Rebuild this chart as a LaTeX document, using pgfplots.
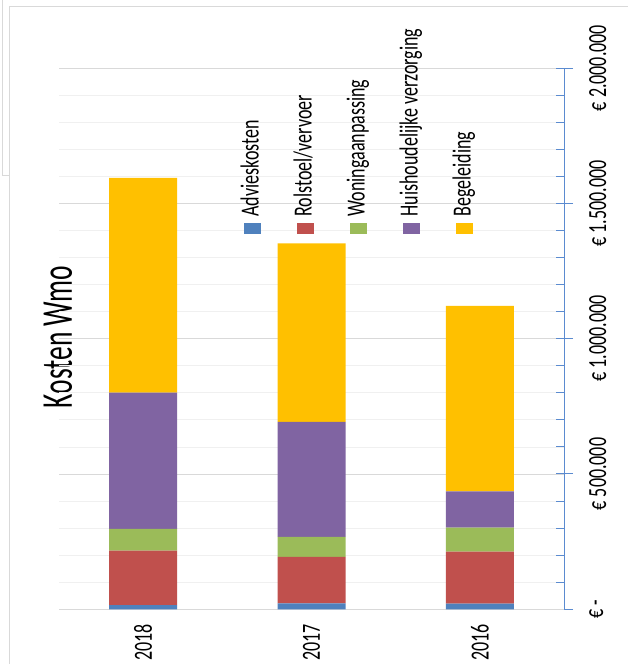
\documentclass[border=0pt]{standalone}
\usepackage{fontspec}
\setmainfont{Carlito}
\usepackage{graphicx}
\usepackage{pgfplots}
\pgfplotsset{compat=1.18}
\definecolor{cA}{HTML}{4F81BD}
\definecolor{cB}{HTML}{C0504D}
\definecolor{cC}{HTML}{9BBB59}
\definecolor{cD}{HTML}{8064A2}
\definecolor{cE}{HTML}{FFC000}
\definecolor{axblue}{HTML}{5B8BD0}
\newcommand{\st}[1]{\scalebox{1}[1.45]{#1}}
\newcommand{\rt}[1]{\rotatebox{90}{\st{\strut #1}}}
\begin{document}
\begin{tikzpicture}[x=1pt,y=1pt]
\useasboundingbox (0,0) rectangle (628,664);
\draw[black!15, line width=1pt] (9,0) -- (9,657) -- (628,657);
\draw[black!15, line width=1pt] (2,664) -- (2,488) -- (9,488);
\node[rotate=90] at (58,327) {\scalebox{1}[1.6]{\fontsize{27.5}{30}\selectfont Kosten Wmo}};
\begin{axis}[
  at={(59pt,54.7pt)}, anchor=south west, scale only axis,
  width=505pt, height=541.2pt,
  ybar stacked, bar width=68pt,
  xmin=-0.5, xmax=2.5, ymin=0, ymax=2000000,
  axis y line*=right, axis x line*=bottom,
  xtick={0,1,2}, xticklabels={\st{2018},\st{2017},\st{2016}},
  x axis line style={-, draw=black!15, line width=0.8pt},
  xtick style={draw=none},
  ytick={0,500000,1000000,1500000,2000000},
  yticklabels={\st{€ -},\st{€ 500.000},\st{€ 1.000.000},\st{€ 1.500.000},\st{€ 2.000.000}},
  scaled y ticks=false,
  minor y tick num=4,
  ymajorgrids, yminorgrids,
  major grid style={black!15, line width=0.8pt},
  minor grid style={black!6, line width=0.8pt},
  y axis line style={-, axblue, line width=1pt},
  ytick style={axblue, line width=1pt},
  tick align=inside, major tick length=8pt, minor tick length=8pt,
  ticklabel style={font=\fontsize{18}{20}\selectfont},
  yticklabel style={rotate=90, anchor=north, inner sep=0pt},
  yticklabel shift=25pt,
  xticklabel style={rotate=90, anchor=east, inner sep=0pt},
  xticklabel shift=15pt,
  legend image code/.code={\path (0pt,0pt); \fill[#1, overlay] (6pt,-6pt) rectangle (23pt,-17pt);},
  legend columns=5,
  legend style={at={(0.355,0.723)}, anchor=south west, draw=none, fill=none,
    inner sep=0pt, outer sep=0pt, column sep=0pt, font=\fontsize{18}{20}\selectfont,
    nodes={inner sep=0pt, outer sep=0pt, anchor=base west},
    /tikz/every even column/.append style={column sep=24pt}},
]
\addplot[fill=cA, draw=none] coordinates {(0,15000) (1,22000) (2,21000)};
\addplot[fill=cB, draw=none] coordinates {(0,202000) (1,172000) (2,192000)};
\addplot[fill=cC, draw=none] coordinates {(0,80000) (1,74000) (2,89000)};
\addplot[fill=cD, draw=none] coordinates {(0,504000) (1,425000) (2,134000)};
\addplot[fill=cE, draw=none] coordinates {(0,793000) (1,659000) (2,685000)};
\legend{\rt{Advieskosten},\rt{Rolstoel/vervoer},\rt{Woningaanpassing},\rt{Huishoudelijke verzorging},\rt{Begeleiding}}
\end{axis}
\begin{axis}[
  at={(59pt,54.7pt)}, anchor=south west, scale only axis,
  width=505pt, height=541.2pt,
  xmin=-0.5, xmax=2.5, ymin=0, ymax=2000000,
  axis y line*=right, axis x line=none,
  ytick={0,500000,1000000,1500000,2000000},
  yticklabel style={text opacity=0}, scaled y ticks=false,
  tick align=outside, major tick length=9pt,
  ytick style={axblue, line width=1pt},
  y axis line style={-, draw=none},
]
\end{axis}
\end{tikzpicture}
\end{document}
